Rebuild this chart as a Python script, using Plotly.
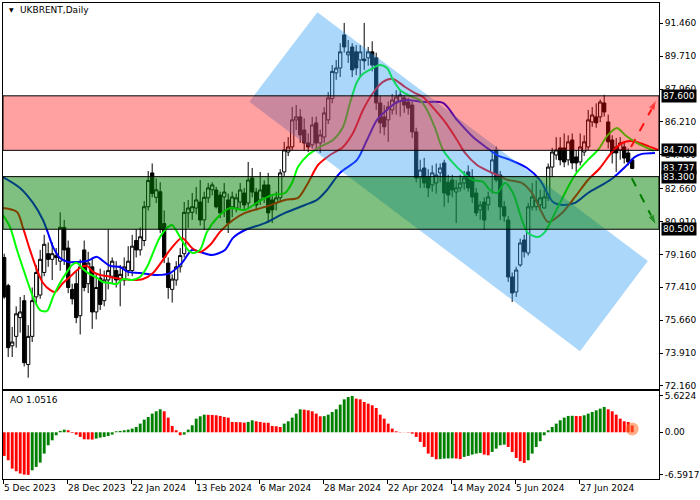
import plotly.graph_objects as go

# ---------------- data ----------------
bar_index = list(range(158))

open_ = [79.0, 77.5, 74.3, 74.8, 75.8, 76.7, 73.3, 74.8, 76.9, 77.0,
         78.2, 79.2, 78.9, 79.1, 78.8, 80.6, 79.5, 77.3, 77.6, 75.9,
         79.4, 77.6, 78.5, 76.1, 77.9, 76.7, 77.8, 78.0, 78.3, 77.8,
         77.8, 78.3, 78.3, 79.9, 79.4, 79.9, 81.7, 83.5, 82.2, 82.5,
         80.8, 78.7, 77.3, 77.8, 78.5, 79.2, 81.37, 81.4, 81.63, 81.95,
         81.0, 82.17, 82.6, 82.59, 82.32, 82.22, 82.06, 81.69, 81.63, 81.95,
         82.43, 81.9, 83.23, 82.48, 82.06, 82.86, 82.86, 82.06, 81.9, 82.17,
         83.55, 84.61, 84.88, 86.32, 86.48, 85.78, 85.09, 84.99, 86.16, 85.09,
         85.41, 86.32, 87.45, 88.82, 89.08, 90.84, 89.78, 90.2, 89.94, 89.51,
         89.56, 89.62, 89.94, 89.62, 87.22, 86.48, 86.32, 86.85, 87.22, 87.3,
         87.49, 87.27, 87.11, 85.68, 83.23, 83.76, 83.28, 82.86, 82.96, 83.5,
         84.03, 83.0, 83.12, 82.48, 82.7, 82.96, 83.55, 83.23, 82.43, 81.53,
         81.95, 81.8, 83.5, 84.7, 83.39, 81.7, 80.99, 77.96, 77.16, 78.6,
         79.93, 79.24, 81.69, 81.7, 81.8, 81.63, 82.17, 83.81, 84.45, 84.83,
         84.83, 84.19, 85.25, 84.35, 84.08, 84.61, 84.88, 86.21, 86.48, 86.48,
         87.22, 86.21, 85.25, 84.88, 84.72, 84.88, 84.56, 84.19]
high = [79.2, 77.6, 75.3, 76.4, 76.9, 77.0, 75.4, 77.4, 78.6, 79.4,
        80.2, 79.8, 79.8, 79.5, 81.4, 81.0, 79.9, 77.6, 78.3, 78.9,
        79.9, 79.3, 79.0, 78.1, 78.4, 78.3, 80.5, 79.0, 78.8, 78.6,
        79.0, 79.6, 80.2, 80.5, 80.6, 82.0, 83.6, 84.0, 83.2, 83.0,
        81.5, 79.0, 78.1, 78.8, 79.5, 81.95, 82.06, 82.43, 82.75, 83.12,
        82.5, 82.96, 83.0, 82.75, 82.5, 82.96, 82.4, 82.5, 82.4, 82.96,
        82.7, 84.08, 83.76, 82.7, 83.55, 83.1, 83.5, 82.3, 82.5, 83.7,
        85.15, 85.4, 87.01, 87.11, 86.9, 86.4, 85.6, 86.48, 86.5, 85.8,
        87.0, 87.8, 89.24, 89.51, 90.4, 91.48, 90.57, 90.4, 90.3, 90.3,
        91.48, 90.2, 90.5, 89.9, 87.6, 87.1, 87.3, 87.7, 87.9, 87.9,
        87.65, 87.5, 87.3, 85.9, 84.2, 84.3, 83.7, 83.9, 84.0, 84.0,
        84.2, 83.4, 83.4, 83.12, 83.4, 83.6, 83.9, 83.7, 82.7, 82.0,
        82.2, 82.5, 84.6, 84.9, 83.6, 82.0, 81.2, 78.2, 78.5, 80.0,
        80.2, 81.9, 82.96, 83.1, 82.6, 82.6, 84.0, 84.83, 85.4, 85.4,
        85.6, 85.5, 85.6, 84.72, 85.6, 85.5, 86.85, 87.0, 87.2, 87.4,
        87.65, 86.6, 85.5, 85.36, 85.4, 85.2, 84.8, 84.3]
low = [76.8, 73.7, 73.7, 74.2, 75.0, 73.2, 72.6, 74.5, 76.5, 76.8,
       78.0, 78.5, 77.8, 78.6, 78.3, 78.6, 77.1, 76.5, 75.5, 74.9,
       77.2, 77.1, 75.2, 75.7, 76.2, 76.4, 77.3, 77.6, 77.4, 76.4,
       77.5, 78.0, 78.0, 79.0, 79.1, 79.6, 81.5, 82.2, 81.9, 80.3,
       78.7, 76.8, 76.6, 77.5, 78.2, 79.0, 80.57, 81.0, 81.3, 80.7,
       80.46, 81.9, 82.3, 81.6, 81.1, 81.15, 80.3, 81.15, 81.4, 81.6,
       81.5, 81.6, 82.2, 81.5, 81.8, 81.9, 80.83, 80.83, 81.5, 82.0,
       83.3, 84.4, 84.7, 85.78, 85.1, 84.7, 84.6, 84.8, 84.8, 84.56,
       85.1, 86.1, 87.2, 88.45, 88.6, 89.9, 89.35, 88.6, 88.7, 88.6,
       88.98, 89.2, 88.9, 86.85, 85.6, 85.5, 85.15, 86.6, 86.6, 86.5,
       86.7, 86.6, 85.36, 83.0, 82.7, 82.7, 82.2, 82.5, 82.4, 83.0,
       81.7, 81.9, 82.2, 80.83, 82.5, 82.6, 82.5, 81.9, 81.2, 81.0,
       80.46, 81.5, 82.4, 83.0, 80.99, 80.9, 77.7, 76.63, 76.9, 78.5,
       79.0, 79.1, 81.5, 81.5, 81.5, 81.6, 82.0, 83.28, 84.2, 83.9,
       83.8, 83.9, 83.7, 83.55, 83.9, 84.4, 84.72, 85.95, 85.9, 86.2,
       86.5, 84.8, 84.0, 83.55, 84.2, 84.0, 83.9, 83.7]
close = [76.9, 74.2, 74.5, 76.0, 76.1, 73.4, 74.8, 76.7, 78.2, 78.9,
         79.7, 78.9, 79.2, 79.0, 80.6, 79.4, 77.4, 76.8, 75.8, 78.5,
         77.4, 78.7, 76.1, 77.4, 76.5, 77.8, 78.3, 78.8, 77.8, 78.1,
         78.5, 78.8, 79.6, 79.4, 80.1, 81.7, 83.1, 82.4, 82.6, 80.5,
         79.0, 77.4, 77.85, 78.5, 79.1, 81.4, 81.63, 81.7, 82.06, 80.99,
         82.2, 82.7, 82.86, 81.69, 81.37, 82.48, 80.83, 82.22, 82.17, 82.59,
         81.79, 83.12, 82.48, 81.79, 82.59, 82.22, 81.37, 81.53, 82.17, 83.5,
         84.72, 84.88, 86.32, 86.48, 85.52, 85.09, 84.88, 86.05, 85.09, 85.52,
         86.69, 87.49, 88.9, 89.08, 89.94, 90.2, 89.94, 88.98, 89.08, 89.94,
         89.46, 89.94, 89.24, 87.22, 86.16, 85.95, 87.01, 87.38, 87.54, 87.65,
         87.11, 86.95, 85.68, 83.23, 83.65, 82.96, 82.7, 83.5, 83.39, 83.76,
         82.43, 82.32, 82.59, 82.7, 82.96, 83.23, 82.7, 82.22, 81.37, 81.79,
         80.99, 82.22, 84.19, 83.12, 81.69, 81.2, 77.96, 77.11, 78.33, 79.77,
         79.3, 81.69, 82.22, 82.06, 82.17, 82.22, 83.81, 84.61, 84.72, 84.19,
         84.08, 85.15, 84.03, 84.03, 84.88, 85.15, 86.32, 86.58, 86.16, 87.27,
         86.74, 85.15, 84.56, 84.56, 85.09, 84.29, 84.08, 83.737]

ao = [-3.66, -4.33, -5.62, -6.03, -6.39, -6.55, -6.5917, -5.88, -5.36, -4.69,
      -3.30, -2.01, -1.24, -0.46, 0.21, 0.41, 0.31, -0.10, -0.36, -0.72,
      -1.08, -1.10, -1.13, -0.98, -0.82, -0.72, -0.57, -0.36, 0.15, 0.21,
      0.31, 0.41, 0.57, 0.82, 1.34, 1.96, 2.37, 2.89, 3.25, 3.56,
      3.25, 2.27, 0.98, 0.31, -0.46, -0.36, 0.41, 1.08, 2.11, 2.47,
      2.73, 2.70, 2.68, 2.63, 2.53, 2.37, 2.27, 1.60, 1.58, 1.56,
      1.49, 1.60, 1.86, 1.70, 1.60, 1.49, 1.47, 0.98, 0.93, 0.82,
      1.34, 1.70, 2.27, 2.89, 3.56, 3.50, 3.40, 3.25, 2.89, 2.47,
      2.50, 2.73, 3.14, 3.56, 4.28, 5.10, 5.46, 5.6224, 5.21, 5.10,
      4.69, 4.43, 4.18, 3.76, 2.73, 2.11, 1.34, 0.57, 0.15, 0.05,
      0.02, -0.05, -0.21, -0.72, -1.49, -2.27, -3.30, -3.81, -4.18, -4.15,
      -4.07, -4.05, -4.03, -4.06, -4.15, -3.81, -3.66, -3.45, -3.30, -3.20,
      -3.45, -3.56, -3.04, -2.53, -2.01, -1.91, -2.27, -3.04, -3.97, -4.48,
      -4.74, -4.33, -3.30, -2.27, -1.39, -0.46, 0.31, 0.82, 1.34, 1.86,
      2.27, 2.53, 2.55, 2.52, 2.50, 2.63, 2.89, 3.14, 3.40, 3.66,
      3.92, 3.56, 3.25, 2.73, 2.11, 1.70, 1.60, 1.0516]

# Alligator lines (jaw = blue, teeth = red, lips = lime), sampled along the drawn lines
jaw_pos = [-0.3, 3.95, 7.2, 9.7, 10.95, 12.2, 13.95, 15.95, 18.2, 20.7, 23.2, 24.7, 26.45, 28.95,
           30.95, 33.95, 38.2, 41.45, 44.45, 46.95, 48.95, 51.95, 55.2, 57.2, 60.2, 65.2, 70.2,
           75.2, 78.2, 80.7, 83.95, 88.2, 90.7, 93.2, 95.7, 98.2, 100.7, 104.7, 109.7, 113.2,
           117.2, 120.7, 123.2, 126.45, 130.7, 133.95, 137.2, 139.45, 142.7, 145.95, 149.45,
           152.2, 155.2, 157.7, 159.45, 162.7]
jaw_val = [83.28, 82.70, 81.90, 80.99, 80.30, 79.56, 78.97, 78.76, 78.76, 78.81, 79.03, 78.81,
           78.55, 78.49, 78.23, 78.17, 78.07, 78.17, 78.71, 79.40, 79.29, 79.13, 79.40, 80.04,
           80.46, 80.83, 81.37, 81.79, 82.06, 82.59, 83.50, 84.19, 85.25, 86.32, 86.85, 87.27,
           87.38, 87.27, 87.22, 86.32, 85.41, 84.83, 84.45, 84.19, 83.76, 83.12, 81.95, 81.79,
           81.90, 82.43, 82.86, 83.23, 83.81, 84.35, 84.51, 84.56]
teeth_pos = [-0.3, 3.2, 4.7, 6.45, 8.2, 9.7, 11.45, 12.7, 14.7, 16.95, 18.95, 20.7, 22.2, 23.95,
             25.7, 27.7, 29.7, 32.2, 34.7, 37.2, 39.7, 41.45, 44.45, 46.95, 48.95, 51.45, 53.95,
             57.2, 60.2, 65.2, 70.2, 73.45, 75.95, 78.45, 81.45, 84.7, 87.2, 89.7, 92.2, 94.7,
             97.2, 100.2, 102.7, 104.7, 107.7, 110.2, 113.2, 115.2, 118.2, 121.45, 123.2, 125.95,
             129.45, 131.95, 134.45, 135.95, 139.45, 142.7, 145.95, 148.95, 151.95, 154.45,
             156.95, 160.2, 163.45]
teeth_val = [81.63, 81.42, 80.57, 79.40, 78.33, 77.64, 77.27, 77.16, 77.64, 78.07, 78.44, 78.55,
             78.23, 78.07, 78.01, 77.91, 77.85, 77.80, 77.85, 78.17, 78.87, 79.40, 80.04, 79.50,
             79.29, 79.66, 80.36, 80.99, 81.37, 81.69, 82.06, 82.17, 82.96, 83.92, 84.45, 84.88,
             85.62, 86.85, 87.75, 88.34, 88.50, 88.07, 87.75, 87.54, 86.85, 86.21, 85.25, 84.56,
             83.92, 83.55, 83.39, 83.12, 82.96, 82.43, 81.37, 80.89, 81.37, 82.22, 83.12, 83.76,
             84.61, 85.09, 85.20, 84.99, 84.72]
lips_pos = [-0.3, 1.45, 3.2, 5.7, 7.2, 8.95, 10.7, 12.2, 13.95, 15.7, 16.95, 18.2, 19.45, 20.95,
            23.2, 24.7, 26.45, 28.2, 29.7, 31.95, 33.95, 35.7, 37.2, 38.95, 40.7, 41.95, 43.95,
            45.95, 47.2, 48.95, 50.7, 53.2, 56.45, 60.2, 63.45, 66.95, 70.2, 71.95, 73.45, 75.95,
            78.95, 82.2, 84.7, 86.45, 88.2, 89.7, 92.2, 93.95, 95.7, 97.2, 98.95, 101.45, 103.95,
            105.7, 107.7, 109.7, 112.2, 114.7, 117.2, 119.7, 121.45, 123.2, 125.2, 127.2, 129.45,
            130.95, 133.45, 135.2, 137.7, 140.2, 142.7, 145.95, 148.45, 150.95, 153.2, 155.2,
            157.7, 160.2, 162.45]
lips_val = [81.26, 80.62, 79.40, 77.80, 76.90, 76.20, 76.15, 76.90, 77.64, 78.23, 78.60, 78.71,
            78.44, 78.17, 77.91, 77.69, 77.64, 77.59, 77.85, 77.80, 77.96, 78.49, 79.24, 80.09,
            80.57, 80.73, 80.09, 79.40, 79.24, 79.40, 80.36, 81.10, 81.63, 81.53, 81.95, 82.32,
            82.43, 82.96, 83.81, 84.45, 84.88, 85.25, 85.94, 87.22, 88.34, 88.77, 89.08, 89.24,
            89.08, 88.45, 87.91, 87.59, 87.38, 86.85, 85.89, 84.72, 84.03, 83.50, 83.12, 83.02,
            82.59, 82.43, 82.96, 82.43, 80.99, 80.30, 80.09, 80.36, 81.37, 82.43, 83.39, 84.19,
            84.72, 85.52, 85.89, 85.52, 85.15, 84.88, 84.67]

resistance_zone = [84.70, 87.60]
support_zone = [80.50, 83.30]
channel_pos = [61.3, 78.3, 160.9, 143.95]
channel_val = [87.29, 92.05, 78.81, 74.01]
up_arrow_pos = [156.7, 163.1]
up_arrow_val = [84.88, 87.38]
down_arrow_pos = [156.9, 162.95]
down_arrow_val = [83.21, 80.73]

price_ticks = [72.16, 73.91, 75.66, 77.41, 79.16, 80.91, 82.66, 84.46, 86.21, 87.96, 89.71, 91.46]
ao_ticks = [5.6224, 0.0, -6.5917]
ao_tick_text = ["5.6224", "0.00", "-6.5917"]
date_ticks = [0, 16, 32, 48, 64, 80, 96, 112, 128, 144]
date_labels = ["5 Dec 2023", "28 Dec 2023", "22 Jan 2024", "13 Feb 2024", "6 Mar 2024",
               "28 Mar 2024", "22 Apr 2024", "14 May 2024", "5 Jun 2024", "27 Jun 2024"]
last_price = 83.737
ao_last = 1.0516
symbol_title = "UKBRENT,Daily"

# ---------------- figure ----------------
FONT = "DejaVu Sans"
fig = go.Figure()

fig.add_trace(go.Candlestick(
    x=bar_index, open=open_, high=high, low=low, close=close,
    increasing=dict(line=dict(color="black", width=1), fillcolor="white"),
    decreasing=dict(line=dict(color="black", width=1), fillcolor="black"),
    whiskerwidth=0, hoverinfo="skip", xaxis="x", yaxis="y"))

for pos, val, col in [(jaw_pos, jaw_val, "#0000ff"),
                      (teeth_pos, teeth_val, "#ff0000"),
                      (lips_pos, lips_val, "#00ff00")]:
    fig.add_trace(go.Scatter(x=pos, y=val, mode="lines",
                             line=dict(color=col, width=2, shape="spline", smoothing=0.8),
                             hoverinfo="skip", xaxis="x", yaxis="y"))

for pos, val, col in [(up_arrow_pos, up_arrow_val, "#ff1a1a"),
                      (down_arrow_pos, down_arrow_val, "#007a00")]:
    fig.add_trace(go.Scatter(x=pos, y=val, mode="lines+markers", cliponaxis=False,
                             line=dict(color=col, width=2, dash="dash"),
                             marker=dict(symbol=["circle", "arrow"], size=[0.1, 11],
                                         color=col, angleref="previous"),
                             hoverinfo="skip", xaxis="x", yaxis="y"))

ao_colors = ["#ff0000" if k == 0 or ao[k] <= ao[k - 1] else "#008000" for k in range(len(ao))]
fig.add_trace(go.Bar(x=bar_index, y=ao, marker=dict(color=ao_colors, line=dict(width=0)),
                     width=0.72, hoverinfo="skip", xaxis="x2", yaxis="y2"))
fig.add_trace(go.Scatter(x=[bar_index[-1]], y=[ao_last / 2], mode="markers",
                         marker=dict(size=13, color="rgba(255,110,40,0.55)"),
                         hoverinfo="skip", xaxis="x2", yaxis="y2"))

# channel (drawn above the candles), then the two zones over it
path = "M " + " L ".join(f"{p},{v}" for p, v in zip(channel_pos, channel_val)) + " Z"
fig.add_shape(type="path", path=path, xref="x", yref="y",
              fillcolor="rgba(43,155,243,0.4)", line=dict(width=0), layer="above")
fig.add_shape(type="rect", xref="x domain", x0=0, x1=1, yref="y",
              y0=resistance_zone[0], y1=resistance_zone[1],
              fillcolor="rgba(255,0,0,0.37)", line=dict(color="black", width=1), layer="above")
fig.add_shape(type="rect", xref="x domain", x0=0, x1=1, yref="y",
              y0=support_zone[0], y1=support_zone[1],
              fillcolor="rgba(0,128,0,0.5)", line=dict(color="black", width=1), layer="above")

# price boxes on the right scale
for v in [resistance_zone[1], resistance_zone[0], last_price, support_zone[1], support_zone[0]]:
    fig.add_annotation(xref="paper", x=1.0, xanchor="left", xshift=2, yref="y", y=v,
                       yanchor="middle", text=f"{v:.3f}", showarrow=False, bgcolor="black",
                       borderpad=1, font=dict(family=FONT, size=9, color="white"))

fig.add_annotation(xref="paper", yref="paper", x=0.0055, y=0.9855, xanchor="left",
                   yanchor="middle", text="▼", showarrow=False,
                   font=dict(family=FONT, size=6, color="black"))
fig.add_annotation(xref="paper", yref="paper", x=0.0229, y=0.985, xanchor="left",
                   yanchor="middle", text=symbol_title, showarrow=False,
                   font=dict(family=FONT, size=9, color="black"))
fig.add_annotation(xref="paper", yref="paper", x=0.0075, y=0.166, xanchor="left",
                   yanchor="middle", text=f"AO {ao_last}", showarrow=False,
                   font=dict(family=FONT, size=9, color="black"))

xr = [-0.3, 163.7]
axis_common = dict(showgrid=False, zeroline=False, showline=True, mirror=True,
                   linecolor="black", linewidth=1, automargin=False)
fig.update_layout(
    width=700, height=500, margin=dict(l=3, r=41, t=3, b=21),
    paper_bgcolor="white", plot_bgcolor="white", showlegend=False,
    boxgap=0.1, boxgroupgap=0.1,
    font=dict(family=FONT, size=9, color="black"),
    xaxis=dict(domain=[0, 1], range=xr, anchor="y", showticklabels=False, ticks="",
               rangeslider=dict(visible=False), **axis_common),
    yaxis=dict(domain=[0.1891, 1], range=[72.0, 92.54], anchor="x", side="right",
               tickvals=price_ticks, ticktext=[f"{t:.3f}" for t in price_ticks],
               ticks="outside", ticklen=3, tickcolor="black",
               tickfont=dict(family=FONT, size=9, color="black"), **axis_common),
    xaxis2=dict(domain=[0, 1], range=xr, anchor="y2",
                tickvals=[t - 0.3 for t in date_ticks], ticktext=date_labels,
                ticks="outside", ticklen=4, tickcolor="black", tickangle=0,
                ticklabelposition="outside right",
                tickfont=dict(family=FONT, size=9, color="black"), **axis_common),
    yaxis2=dict(domain=[0, 0.1849], range=[-7.23, 6.39], anchor="x2", side="right",
                tickvals=ao_ticks, ticktext=ao_tick_text,
                ticks="outside", ticklen=3, tickcolor="black",
                tickfont=dict(family=FONT, size=9, color="black"), **axis_common),
)

fig.write_html("out.html", config={"displayModeBar": False, "staticPlot": True},
               post_script="document.body.style.margin='0';")
